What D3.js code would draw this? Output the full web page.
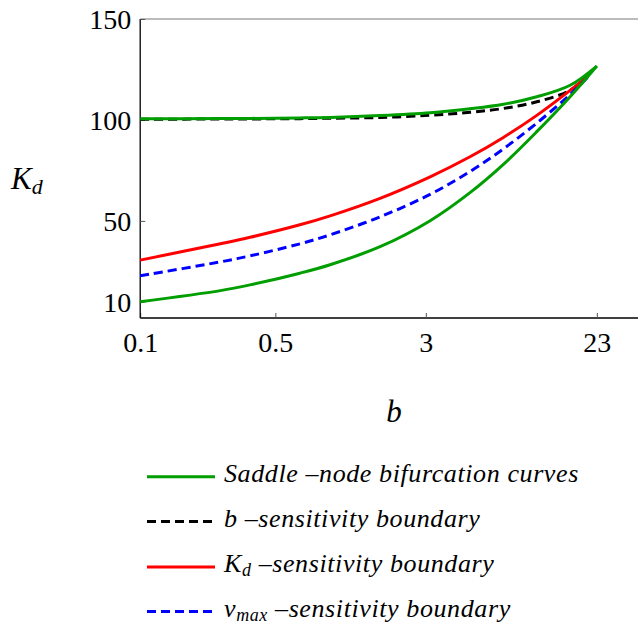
<!DOCTYPE html>
<html>
<head>
<meta charset="utf-8">
<script src="https://cdn.jsdelivr.net/npm/d3@7/dist/d3.min.js"></script>
<style>
  html, body { margin: 0; padding: 0; background: #fff; }
  svg { display: block; }
  svg text { font-family: "Liberation Serif", "Times New Roman", Times, Tinos, "DejaVu Serif", "Noto Serif", FreeSerif, serif !important; fill: #000; }
</style>
</head>
<body>
<svg id="chart" width="638" height="624"></svg>
<script>
// ---- data ----
const xTickValues = [0.1, 0.5, 3, 23];
const xTickLabels = ["0.1", "0.5", "3", "23"];
const yTickValues = [10, 50, 100, 150];
const yTickLabels = ["10", "50", "100", "150"];

const bSaddle = [0.1, 0.26, 0.37, 0.67, 0.96, 1.74, 3.16, 5.08, 7.56, 11.25, 16.73, 23];
const saddleUpper = [100.55, 100.67, 100.76, 101.0, 101.26, 102.15, 103.54, 105.52, 107.75, 111.47, 117.17, 126.7];
const saddleLower = [10.0, 15.46, 18.3, 24.1, 28.3, 37.2, 50.1, 64.0, 78.0, 94.2, 111.5, 126.7];

const bBound = [0.1, 0.26, 0.37, 0.67, 0.96, 1.74, 3.16, 5.08, 7.56, 11.25, 16.73, 20.8];
const bSensitivity = [100.36, 100.45, 100.5, 100.65, 100.85, 101.2, 102.3, 103.8, 105.7, 109.0, 114.7, 122.4];
const kdSensitivity = [30.57, 38.67, 41.87, 48.06, 52.52, 61.19, 71.85, 81.76, 91.34, 102.26, 114.63, 122.0];
const vmaxSensitivity = [22.8, 29.7, 32.68, 38.63, 43.09, 52.01, 63.16, 74.46, 85.68, 98.43, 112.62, 121.5];

const seriesNames = ["Saddle –node bifurcation curves", "b –sensitivity boundary", "K_d –sensitivity boundary", "v_max –sensitivity boundary"];
const seriesColors = ["#009e00", "#000000", "#ff0000", "#0000ff"];
const seriesDash = [null, "9,5", null, "9,5"];

// ---- layout ----
const svg = d3.select("#chart");
const mLeft = 140.2, mRight = 639, mTop = 19, mBottom = 318;

const x = d3.scaleLog().domain([0.1, 38]).range([mLeft, mRight]);
const y = d3.scaleLinear().domain([1.9, 150]).range([mBottom, mTop]);

// frame top (gray)
svg.append("line").attr("x1", mLeft).attr("x2", 638).attr("y1", mTop).attr("y2", mTop)
  .attr("stroke", "#7a7a7a").attr("stroke-width", 1.2);

// axes
const xAxis = d3.axisBottom(x).tickValues(xTickValues).tickFormat((d, i) => xTickLabels[i]).tickSizeInner(-5).tickSizeOuter(0).tickPadding(14);
const gx = svg.append("g").attr("transform", `translate(0,${mBottom})`).call(xAxis);
gx.attr("font-family", null);
gx.select(".domain").attr("stroke", "#000").attr("stroke-width", 1.3).attr("d", `M${mLeft},0H638`);
gx.selectAll(".tick line").attr("stroke", "#555").attr("stroke-width", 1);
gx.selectAll(".tick text").attr("font-size", 28).attr("dy", "0.71em");

const yAxis = d3.axisLeft(y).tickValues(yTickValues).tickFormat((d, i) => yTickLabels[i]).tickSizeInner(-5).tickSizeOuter(0).tickPadding(9);
const gy = svg.append("g").attr("transform", `translate(${mLeft},0)`).call(yAxis);
gy.attr("font-family", null);
gy.select(".domain").attr("stroke", "#000").attr("stroke-width", 1.3).attr("d", `M0,${mBottom}V${mTop}`);
gy.selectAll(".tick line").attr("stroke", "#555").attr("stroke-width", 1);
gy.selectAll(".tick text").attr("font-size", 28).attr("dy", "0.34em");

// ---- curves ----
const line = d3.line().x(d => x(d[0])).y(d => y(d[1])).curve(d3.curveCatmullRom.alpha(0.5));
const plot = svg.append("g");
function drawCurve(bs, ks, color, dash) {
  const p = plot.append("path").datum(d3.zip(bs, ks)).attr("d", line)
    .attr("fill", "none").attr("stroke", color).attr("stroke-width", 3)
    .attr("stroke-linecap", "butt").attr("stroke-linejoin", "round");
  if (dash) p.attr("stroke-dasharray", dash);
}
drawCurve(bBound, bSensitivity, seriesColors[1], seriesDash[1]);
drawCurve(bBound, kdSensitivity, seriesColors[2], seriesDash[2]);
drawCurve(bBound, vmaxSensitivity, seriesColors[3], seriesDash[3]);
drawCurve(bSaddle, saddleLower, seriesColors[0], seriesDash[0]);
drawCurve(bSaddle, saddleUpper, seriesColors[0], seriesDash[0]);

// ---- axis titles ----
const kt = svg.append("text").attr("x", 11).attr("y", 189).attr("font-size", 31).attr("font-style", "italic");
kt.append("tspan").text("K");
kt.append("tspan").attr("font-size", 22).attr("dy", 5).text("d");

svg.append("text").attr("x", 394).attr("y", 422).attr("text-anchor", "middle")
  .attr("font-size", 31).attr("font-style", "italic").text("b");

// ---- legend ----
const legY = [476.7, 521.5, 567, 611.5];
const leg = svg.append("g");
seriesNames.forEach((name, i) => {
  const l = leg.append("line").attr("x1", 147).attr("x2", 215).attr("y1", legY[i]).attr("y2", legY[i])
    .attr("stroke", seriesColors[i]).attr("stroke-width", 3);
  if (seriesDash[i]) l.attr("stroke-dasharray", seriesDash[i]);
  const t = leg.append("text").attr("x", 224).attr("y", legY[i] + 5).attr("font-size", 26)
    .attr("font-style", "italic").attr("letter-spacing", 0.6);
  const m = name.match(/^(\w)_(\w+)(.*)$/);
  if (m) {
    t.append("tspan").text(m[1]);
    t.append("tspan").attr("font-size", 18).attr("dy", 4).text(m[2]);
    t.append("tspan").attr("dy", -4).text(m[3]);
  } else {
    t.text(name);
  }
});
</script>
</body>
</html>
